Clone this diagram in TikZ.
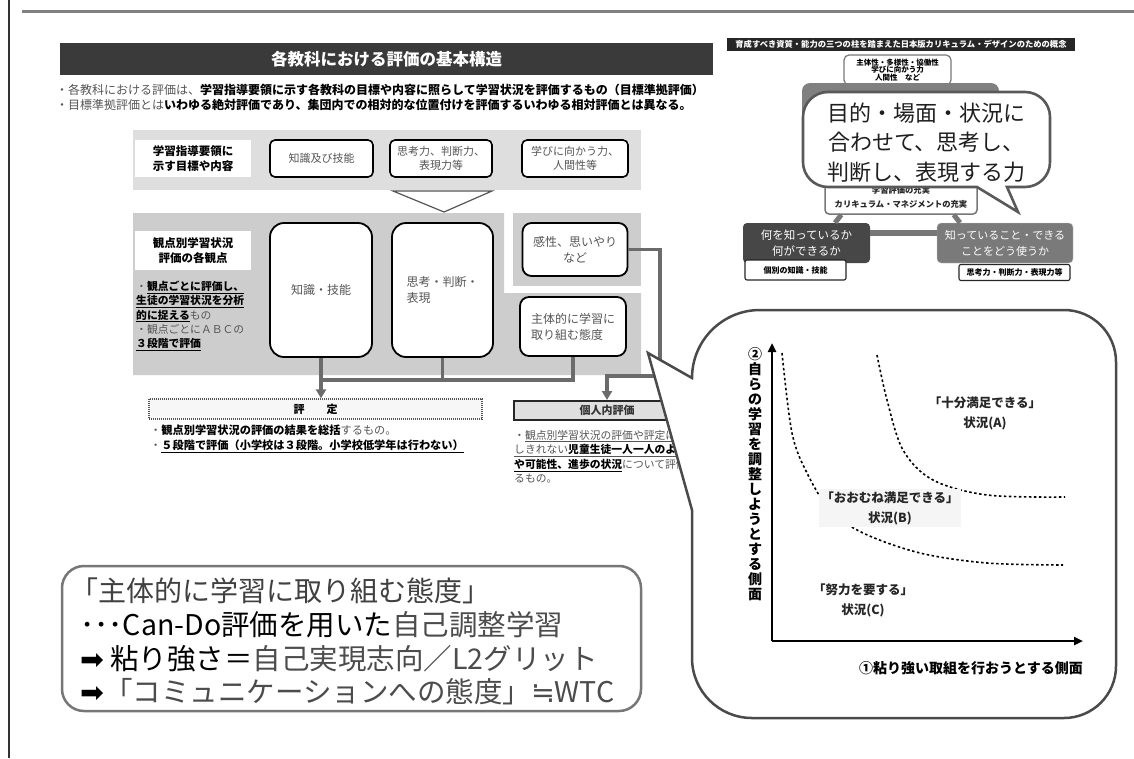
\documentclass[tikz,border=0pt]{standalone}
\usepackage{fontspec}
\setmainfont{Noto Sans CJK JP}
\newfontfamily\dejavu{DejaVu Sans}
\usetikzlibrary{arrows.meta}
\definecolor{tb}{HTML}{3A3A3A}
\definecolor{pnlA}{HTML}{DEDEDE}
\definecolor{pnlB}{HTML}{CDCDCD}
\definecolor{cg}{HTML}{6B6B6B}
\definecolor{tg}{HTML}{555555}
\definecolor{gb}{HTML}{4A4A4A}
\definecolor{bx}{HTML}{777777}
\newcommand\fsz[2]{\fontsize{#1}{#2}\selectfont}
\begin{document}
\begin{tikzpicture}[x=1pt,y=-1pt,
  lbl/.style={fill=white, inner sep=0, align=center, font=\bfseries\fsz{11.5}{14.5}},
  wbox/.style={draw=black, line width=1.6, fill=white, rounded corners=5, inner sep=0, align=center, text=tg},
  bigbox/.style={draw=black, line width=1.8, fill=white, rounded corners=14, inner sep=0, align=center, text=tg, font=\fsz{12}{16}},
  conn/.style={draw=cg, line width=3.5},
  arr/.style={conn, -{Triangle[length=9,width=10]}},
  axis/.style={line width=2.8, -{Triangle[length=9,width=8]}},
  dotc/.style={line width=1.6, dash pattern=on 2.5pt off 2.5pt},
  small/.style={inner sep=0, align=center, font=\bfseries\fsz{8}{10}}]
\useasboundingbox (0,0) rectangle (1134,758);
\fill[white] (0,0) rectangle (1134,758);
% frame lines
\draw[line width=1.2, black!80] (9,0) -- (9,758);
\draw[line width=3, gray] (22,11) -- (1134,11);

% ===== left slide =====
\node[fill=tb, minimum width=653, minimum height=32, inner sep=0, text=white, font=\bfseries\fsz{16.5}{18}] (title) at (386.5,59) {各教科における評価の基本構造};
\node[anchor=west, inner sep=0, font=\fsz{12}{15}, text=tg] (b1) at (56,90) {・各教科における評価は、{\color{black}\bfseries 学習指導要領に示す各教科の目標や内容に照らして学習状況を評価するもの（目標準拠評価）}};
\node[anchor=west, inner sep=0, font=\fsz{12}{15}, text=tg] (b2) at (56,105) {・目標準拠評価とは{\color{black}\bfseries いわゆる絶対評価であり、集団内での相対的な位置付けを評価するいわゆる相対評価とは異なる。}};

% top panel
\fill[pnlA] (133,130) rectangle (641,190);
\node[lbl, minimum width=116, minimum height=37] (L0) at (193,158.5) {学習指導要領に\\示す目標や内容};
\node[wbox, minimum width=103, minimum height=37, font=\fsz{11}{14}] (k1) at (321.5,158.5) {知識及び技能};
\node[wbox, minimum width=102, minimum height=37, font=\fsz{11}{14}] (k2) at (441,158.5) {思考力、判断力、\\表現力等};
\node[wbox, minimum width=106, minimum height=37, font=\fsz{11}{14}] (k3) at (575,158.5) {学びに向かう力、\\人間性等};
\draw[fill=white, draw=tg, line width=1.2] (393,191) -- (492,191) -- (444,212) -- cycle;

% middle panels
\fill[pnlB] (133,213) -- (504,213) -- (504,293) -- (641,293) -- (641,375) -- (133,375) -- cycle;
\fill[pnlB] (513,213) rectangle (641,286);
\node[lbl, minimum width=116, minimum height=39] (L1) at (193,250.5) {観点別学習状況\\評価の各観点};
\node[anchor=north west, inner sep=0, align=left, font=\fsz{10.8}{14.2}, text=tg] (ltext) at (136,281) {・{\color{black}\bfseries\underline{観点ごとに評価し、}}\\{\color{black}\bfseries\underline{生徒の学習状況を分析}}\\{\color{black}\bfseries\underline{的に捉える}}もの\\・観点ごとにＡＢＣの\\{\color{black}\bfseries\underline{３段階で評価}}};
\node[bigbox, minimum width=102, minimum height=134] (m1) at (321,290) {知識・技能};
\node[bigbox, minimum width=101, minimum height=134, align=left] (m2) at (442.5,290) {思考・判断・\\表現};
\node[wbox, rounded corners=9, line width=1.8, minimum width=105, minimum height=53, font=\fsz{12}{16}] (m3) at (575,249.5) {感性、思いやり\\など};
\node[wbox, rounded corners=9, line width=1.8, minimum width=106, minimum height=59, font=\fsz{12}{16}, align=left] (m4) at (573,326.5) {主体的に学習に\\取り組む態度};

% evaluation boxes
\node[draw=tg, line width=1.3, dash pattern=on 1pt off 1pt, fill=gray!6, minimum width=333, minimum height=20, inner sep=0, font=\bfseries\fsz{11}{13}] (hyotei) at (315.5,409) {評　　定};
\node[draw=black!85, line width=2, fill=gray!25, minimum width=186, minimum height=19, inner sep=0, font=\bfseries\fsz{11}{13}, text=black!80] (kojin) at (607,410.5) {個人内評価};

% connectors
\coordinate (hb) at (0,380);
\coordinate (hb2) at (0,376);
\coordinate (kv) at (660,0);
\draw[conn] (m4.south) -- (m4.south |- hb) -- (m1.south |- hb);
\draw[conn] (m2.south) -- (m2.south |- hb);
\draw[arr] (m1.south) -- (m1.south |- hyotei.north);
\draw[arr] (m3.east) -- (m3.east -| kv) -- (kv |- hb2) -- (kojin.north |- hb2) -- (kojin.north);

\node[anchor=north west, inner sep=0, align=left, font=\fsz{11.2}{14.5}, text=tg] (hyt) at (150,425) {・{\color{black}\bfseries 観点別学習状況の評価の結果を総括}するもの。\\・{\color{black}\bfseries\underline{５段階で評価（小学校は３段階。小学校低学年は行わない）}}};
\node[anchor=north west, inner sep=0, align=left, font=\fsz{10.8}{14.5}, text=tg] (kjt) at (514,430) {・\underline{観点別学習状況の評価や評定に示}\\\underline{しきれない{\color{black}\bfseries 児童生徒一人一人のよい点}}\\{\color{black}\bfseries\underline{や可能性、進歩の状況}}について評価す\\るもの。};

% ===== right top concept diagram =====
\node[fill=black!85, minimum width=348, minimum height=13, inner sep=0, text=white, font=\bfseries\fsz{8.3}{9}] (rtitle) at (901,44.5) {育成すべき資質・能力の三つの柱を踏まえた日本版カリキュラム・デザインのための概念};
\node[draw=bx, line width=1.2, fill=white, rounded corners=5, minimum width=107, minimum height=30, inner sep=0, align=center, font=\bfseries\fsz{7.5}{7.8}] (shutai) at (897.5,70) {主体性・多様性・協働性\\学びに向かう力\\人間性　など};
\fill[black!50, rounded corners=8] (802,83) rectangle (999,170);
\node[draw=bx, line width=1.5, fill=white, rounded corners=4, minimum width=152, minimum height=40, inner sep=0, align=center, font=\bfseries\fsz{8.3}{13.5}, text=black!85] (jujitsu) at (901,194) {\\学習評価の充実\\カリキュラム・マネジメントの充実};
\node[fill=black!72, rounded corners=4, minimum width=127, minimum height=40, inner sep=0, align=center, text=white, font=\fsz{11.5}{16}] (nani) at (806.5,243) {何を知っているか\\何ができるか};
\node[fill=black!52, draw=black!20, rounded corners=4, minimum width=136, minimum height=40, inner sep=0, align=center, text=white, font=\fsz{11}{16}] (tsuka) at (1005,243) {知っていること・できる\\ことをどう使うか};
\coordinate (bar) at (0,233);
\draw[draw=bx, line width=6] (nani.east |- bar) -- (tsuka.west |- bar);
\draw[draw=bx, line width=5] (jujitsu.south west) ++(17,0) -- (nani.north -| 835,0);
\draw[draw=bx, line width=5] (jujitsu.south east) ++(-24,0) -- (tsuka.north -| 960,0);
\node[small, draw=black!85, line width=1.1, fill=white, rounded corners=2, minimum width=101, minimum height=20] (ko) at (795.5,270) {個別の知識・技能};
\node[small, draw=black!85, line width=1.1, fill=white, rounded corners=2, minimum width=111, minimum height=16] (shi) at (1014.5,272.5) {思考力・判断力・表現力等};
% callout
\draw[draw=black!65, line width=2.6, fill=white] (828,92) -- (1025,92) arc[start angle=270,end angle=360,radius=25] -- (1050,162) arc[start angle=0,end angle=90,radius=25] -- (1007,187) -- (1018,212) -- (977,187) -- (828,187) arc[start angle=90,end angle=180,radius=25] -- (803,117) arc[start angle=180,end angle=270,radius=25] -- cycle;
\node[inner sep=0, align=center, font=\fsz{22}{29.5}, text=black!88] (mokuteki) at (926.5,142.5) {目的・場面・状況に\\合わせて、思考し、\\判断し、表現する力};

% ===== graph box =====
\draw[draw=gb, line width=2.5, fill=white] (692,378) arc[start angle=180,end angle=270,radius=68] -- (1064,310) arc[start angle=270,end angle=360,radius=52] -- (1116,666) arc[start angle=0,end angle=90,radius=52] -- (752,718) arc[start angle=90,end angle=180,radius=60] -- (692,510) -- (648,353) -- cycle;
\coordinate (o) at (772,641);
\coordinate (ytop) at (772,343);
\coordinate (xend) at (1083,641);
\draw[axis] (o) -- (ytop);
\draw[axis] (o) -- (xend);
\draw[dotc] plot[smooth, tension=0.55] coordinates {(782,353) (792,433) (807,473) (830,510) (863,533) (920,553) (987,563) (1063,565)};
\draw[dotc] plot[smooth, tension=0.55] coordinates {(877,355) (887,400) (903,450) (933,480) (987,495) (1065,497)};
\node[inner sep=0, align=center, font=\bfseries\fsz{14}{15}] (ylab) at (755,474) {②\\自\\ら\\の\\学\\習\\を\\調\\整\\し\\よ\\う\\と\\す\\る\\側\\面};
\node[anchor=east, inner sep=0, font=\bfseries\fsz{14}{16}] (xlab) at (1083,668) {①粘り強い取組を行おうとする側面};
\node[inner sep=0, align=center, font=\bfseries\fsz{12.5}{20}, text=black!85] (la) at (985,413) {「十分満足できる」\\状況(A)};
\node[inner sep=2, fill=gray!8, align=center, font=\bfseries\fsz{12.5}{20}, text=black!85] (lb) at (890,508) {「おおむね満足できる」\\状況(B)};
\node[inner sep=0, align=center, font=\bfseries\fsz{12.5}{20}, text=black!85] (lc) at (863,600) {「努力を要する」\\状況(C)};

% ===== bottom-left text box =====
\draw[draw=bx, line width=2.5, rounded corners=22] (62,566) rectangle (641,711);
\node[anchor=west, inner sep=0, font=\fsz{28}{30}, text=black!75] (t1) at (70,591) {「主体的に学習に取り組む態度」};
\node[anchor=west, inner sep=0, font=\fsz{28.5}{30}, text=black] (t2) at (80,625) {･･･Can-Do評価を用いた{\color{black!70}自己調整学習}};
\node[anchor=west, inner sep=0, font=\fsz{28.5}{30}, text=black] (t3) at (80,659) {{\dejavu ➡} 粘り強さ＝{\color{black!70}自己実現志向／L2グリット}};
\node[anchor=west, inner sep=0, font=\fsz{28.5}{30}, text=black!70] (t4) at (80,692) {{\color{black}\dejavu ➡}「コミュニケーションへの態度」{\dejavu ≒}WTC};
\end{tikzpicture}
\end{document}
